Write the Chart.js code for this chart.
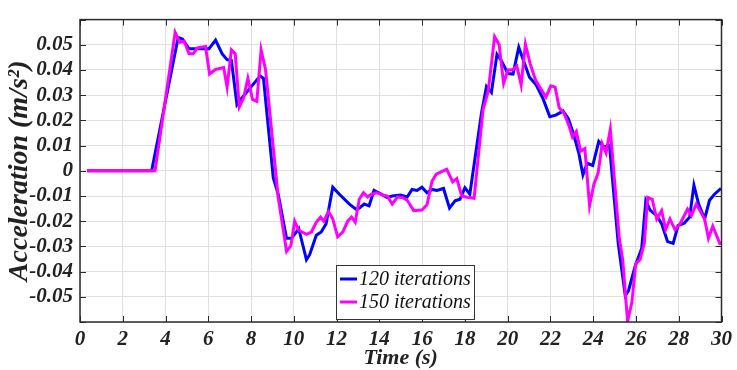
<!DOCTYPE html>
<html>
<head>
<meta charset="utf-8">
<script src="https://cdn.jsdelivr.net/npm/chart.js@4/dist/chart.umd.min.js"></script>
<style>
  html, body { margin: 0; padding: 0; background: #fff; }
  #wrap { width: 737px; height: 370px; }
</style>
</head>
<body>
<div id="wrap"><canvas id="accChart" width="737" height="370"></canvas></div>
<script>
// 120 iterations: time (s) and acceleration (m/s^2)
var t120 = [0.33, 3.35, 4.59, 4.79, 5.10, 5.49, 6.03, 6.34, 6.65, 6.88, 7.08, 7.34, 7.57, 8.04, 8.42, 8.58,
  9.04, 9.27, 9.66, 9.89, 10.23, 10.59, 10.74, 11.05, 11.28, 11.51, 11.82, 12.13, 12.60, 12.90, 13.06, 13.29,
  13.52, 13.75, 14.06, 14.37, 14.60, 14.99, 15.30, 15.53, 15.76, 15.99, 16.23, 16.46, 16.69, 17.00, 17.28, 17.54,
  17.77, 18.00, 18.23, 18.78, 19.01, 19.24, 19.50, 19.70, 20.01, 20.25, 20.52, 20.71, 21.02, 21.33, 21.64, 21.97,
  22.25, 22.59, 22.84, 23.10, 23.33, 23.52, 23.72, 23.98, 24.26, 24.49, 24.76, 25.17, 25.50, 25.65, 25.96, 26.27,
  26.46, 26.66, 26.97, 27.20, 27.48, 27.74, 27.97, 28.25, 28.51, 28.71, 28.93, 29.21, 29.44, 29.67, 29.98];
var a120 = [0, 0, 0.0529, 0.0523, 0.0484, 0.0484, 0.0484, 0.0519, 0.0464, 0.0441, 0.0438, 0.0263, 0.0289, 0.0337, 0.0376, 0.0367,
  -0.0028, -0.0093, -0.0268, -0.0268, -0.0230, -0.0353, -0.0333, -0.0256, -0.0243, -0.0210, -0.0065, -0.0093, -0.0132, -0.0152, -0.0148, -0.0132,
  -0.0139, -0.0078, -0.0091, -0.0106, -0.0100, -0.0096, -0.0104, -0.0074, -0.0078, -0.0065, -0.0087, -0.0074, -0.0078, -0.0070, -0.0148, -0.0119,
  -0.0113, -0.0067, -0.0093, 0.0231, 0.0335, 0.0311, 0.0462, 0.0438, 0.0386, 0.0384, 0.0490, 0.0445, 0.0371, 0.0341, 0.0289, 0.0215,
  0.0221, 0.0237, 0.0207, 0.0140, 0.0069, -0.0016, 0.0030, 0.0021, 0.0117, 0.0095, 0.0101, -0.0288, -0.0495, -0.0476, -0.0379, -0.0307,
  -0.0119, -0.0156, -0.0178, -0.0210, -0.0281, -0.0288, -0.0217, -0.0208, -0.0184, -0.0057, -0.0132, -0.0191, -0.0117, -0.0093, -0.0070];

// 150 iterations
var t150 = [0.33, 3.51, 4.45, 4.67, 4.87, 5.10, 5.29, 5.49, 5.87, 6.06, 6.34, 6.72, 6.88, 7.08, 7.26, 7.45,
  7.65, 7.85, 8.07, 8.27, 8.47, 8.68, 9.27, 9.66, 9.86, 10.04, 10.23, 10.59, 10.82, 11.05, 11.25, 11.40,
  11.62, 11.82, 12.05, 12.29, 12.52, 12.70, 12.87, 13.06, 13.26, 13.45, 13.63, 13.88, 14.14, 14.37, 14.60, 14.84,
  15.07, 15.30, 15.61, 15.99, 16.23, 16.46, 16.66, 17.15, 17.43, 17.62, 17.85, 18.16, 18.43, 18.85, 19.09, 19.39,
  19.60, 19.81, 20.01, 20.25, 20.43, 20.63, 20.83, 21.05, 21.30, 21.56, 21.79, 22.02, 22.22, 22.41, 22.64, 22.87,
  23.03, 23.21, 23.41, 23.61, 23.83, 24.03, 24.23, 24.42, 24.60, 24.80, 25.22, 25.38, 25.61, 25.81, 25.99, 26.19,
  26.39, 26.55, 26.76, 26.97, 27.20, 27.39, 27.59, 27.82, 28.05, 28.41, 28.59, 28.82, 29.21, 29.39, 29.59, 29.95];
var a150 = [0, 0, 0.0549, 0.0510, 0.0514, 0.0464, 0.0464, 0.0488, 0.0493, 0.0384, 0.0402, 0.0410, 0.0332, 0.0480, 0.0464, 0.0254,
  0.0289, 0.0367, 0.0283, 0.0276, 0.0480, 0.0400, -0.0106, -0.0320, -0.0298, -0.0200, -0.0236, -0.0252, -0.0243, -0.0204, -0.0184, -0.0200,
  -0.0161, -0.0191, -0.0262, -0.0243, -0.0200, -0.0184, -0.0204, -0.0113, -0.0087, -0.0104, -0.0093, -0.0087, -0.0096, -0.0100, -0.0132, -0.0104,
  -0.0106, -0.0117, -0.0158, -0.0156, -0.0135, -0.0042, -0.0013, 0.0006, -0.0044, -0.0031, -0.0100, -0.0106, -0.0109, 0.0244, 0.0315, 0.0532,
  0.0501, 0.0347, 0.0400, 0.0402, 0.0415, 0.0341, 0.0503, 0.0425, 0.0361, 0.0324, 0.0293, 0.0337, 0.0332, 0.0250, 0.0228, 0.0179,
  0.0134, 0.0156, 0.0078, 0.0088, -0.0139, -0.0054, -0.0009, 0.0108, 0.0071, 0.0165, -0.0268, -0.0353, -0.0599, -0.0521, -0.0368, -0.0353,
  -0.0288, -0.0106, -0.0113, -0.0191, -0.0158, -0.0233, -0.0191, -0.0233, -0.0213, -0.0152, -0.0178, -0.0132, -0.0191, -0.0268, -0.0220, -0.0294];

var seriesLabels = ['120 iterations', '150 iterations'];
var seriesColors = ['#0000ff', '#ff00ff'];

function toPoints(ts, vs) {
  return ts.map(function (t, i) { return { x: t, y: vs[i] }; });
}

var serif = "'Liberation Serif', 'Times New Roman', serif";
var tickFont = { family: serif, size: 21, weight: 'bold', style: 'italic' };
var xTitleFont = { family: serif, size: 22, weight: 'bold', style: 'italic' };
var yTitleFont = { family: serif, size: 28, weight: 'bold', style: 'italic' };

// box round the plot with inward tick marks on all four sides
var framePlugin = {
  id: 'frame',
  afterDatasetsDraw: function (chart) {
    var ctx = chart.ctx, a = chart.chartArea, x = chart.scales.x, y = chart.scales.y;
    ctx.save();
    ctx.strokeStyle = '#2b2b2b';
    ctx.lineWidth = 1;
    ctx.beginPath();
    x.ticks.forEach(function (tk) {
      var px = Math.round(x.getPixelForValue(tk.value)) + 0.5;
      ctx.moveTo(px, a.bottom); ctx.lineTo(px, a.bottom - 6);
      ctx.moveTo(px, a.top); ctx.lineTo(px, a.top + 6);
    });
    y.ticks.forEach(function (tk) {
      var py = Math.round(y.getPixelForValue(tk.value)) + 0.5;
      ctx.moveTo(a.left, py); ctx.lineTo(a.left + 6, py);
      ctx.moveTo(a.right, py); ctx.lineTo(a.right - 6, py);
    });
    ctx.stroke();
    ctx.lineWidth = 1.5;
    ctx.strokeRect(a.left, a.top, a.right - a.left, a.bottom - a.top);
    ctx.restore();
  }
};

// legend box sitting inside the plot, near the bottom
var legendBox = {
  id: 'legendBox',
  afterDraw: function (chart) {
    var ctx = chart.ctx, a = chart.chartArea;
    var left = a.left + 256, top = a.bottom - 57, w = 138, h = 54;
    ctx.save();
    ctx.fillStyle = '#fff';
    ctx.fillRect(left, top, w, h);
    ctx.strokeStyle = '#333';
    ctx.lineWidth = 1;
    ctx.strokeRect(left + 0.5, top + 0.5, w, h);
    ctx.font = 'italic 20px ' + serif;
    ctx.textBaseline = 'middle';
    chart.data.datasets.forEach(function (ds, i) {
      var ry = top + 14 + i * 23;
      ctx.strokeStyle = ds.borderColor;
      ctx.lineWidth = 3;
      ctx.beginPath();
      ctx.moveTo(left + 4, ry); ctx.lineTo(left + 21, ry);
      ctx.stroke();
      ctx.fillStyle = '#111';
      ctx.fillText(ds.label, left + 23, ry + 1);
    });
    ctx.restore();
  }
};

new Chart(document.getElementById('accChart'), {
  type: 'line',
  data: {
    datasets: [
      {
        label: seriesLabels[0],
        data: toPoints(t120, a120),
        borderColor: seriesColors[0],
        borderWidth: 3,
        pointRadius: 0,
        tension: 0,
        order: 1
      },
      {
        label: seriesLabels[1],
        data: toPoints(t150, a150),
        borderColor: seriesColors[1],
        borderWidth: 3,
        pointRadius: 0,
        tension: 0,
        order: 0
      }
    ]
  },
  options: {
    responsive: false,
    animation: false,
    parsing: false,
    layout: { padding: { top: 12, right: 10, left: 0, bottom: 0 } },
    plugins: { legend: { display: false }, tooltip: { enabled: false } },
    scales: {
      x: {
        type: 'linear',
        min: 0,
        max: 30,
        afterFit: function (s) { s.height = 48; },
        ticks: { stepSize: 2, padding: 5, color: '#222', font: tickFont, maxRotation: 0, autoSkip: false },
        grid: { color: '#e0e0e0', drawTicks: false },
        border: { display: false },
        title: { display: true, text: 'Time (s)', color: '#222', font: xTitleFont, padding: { top: 0, bottom: -2 } }
      },
      y: {
        type: 'linear',
        min: -0.06,
        max: 0.06,
        afterFit: function (s) { s.width = 80; },
        ticks: {
          stepSize: 0.01,
          padding: 7,
          autoSkip: false,
          color: '#222',
          font: tickFont,
          callback: function (v) {
            var r = Math.round(v * 100) / 100;
            if (Math.abs(r) > 0.055) return '';
            return String(r);
          }
        },
        grid: { color: '#e0e0e0', drawTicks: false },
        border: { display: false },
        title: { display: true, text: 'Acceleration (m/s²)', color: '#222', font: yTitleFont, padding: { top: 3, bottom: 0 } }
      }
    }
  },
  plugins: [framePlugin, legendBox]
});
</script>
</body>
</html>
